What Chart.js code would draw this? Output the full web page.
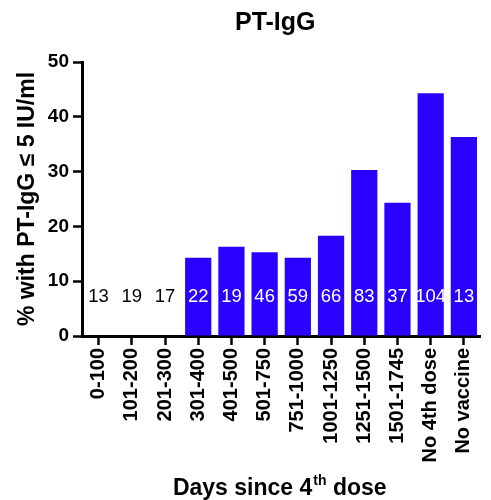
<!DOCTYPE html>
<html>
<head>
<meta charset="utf-8">
<script src="https://cdn.jsdelivr.net/npm/chart.js@4"></script>
<style>
  body { margin: 0; background: #fff; }
  #wrap { width: 491px; height: 500px; }
</style>
</head>
<body>
<div id="wrap"><canvas id="igg"></canvas></div>
<script>
const categories = ['0-100', '101-200', '201-300', '301-400', '401-500', '501-750',
  '751-1000', '1001-1250', '1251-1500', '1501-1745', 'No 4th dose', 'No vaccine'];
const pctLow = [0, 0, 0, 14.3, 16.3, 15.3, 14.3, 18.3, 30.3, 24.3, 44.3, 36.3];
const nPerGroup = [13, 19, 17, 22, 19, 46, 59, 66, 83, 37, 104, 13];
const yTicks = [0, 10, 20, 30, 40, 50];

const FONT = '"Liberation Sans", Arial, sans-serif';
const BLUE = '#2A00FF';

// n labels inside the bars + titles (x title needs a superscript)
const extras = {
  id: 'extras',
  afterDatasetsDraw(chart) {
    const ctx = chart.ctx;
    const y = chart.scales.y;
    const bars = chart.getDatasetMeta(0).data;
    ctx.save();
    ctx.font = '18.5px ' + FONT;
    ctx.textAlign = 'center';
    ctx.textBaseline = 'middle';
    bars.forEach((bar, i) => {
      ctx.fillStyle = pctLow[i] > 0 ? '#fff' : '#000';
      ctx.fillText(String(nPerGroup[i]), bar.x, y.getPixelForValue(7.1));
    });
    ctx.restore();
  },
  afterDraw(chart) {
    const ctx = chart.ctx;
    const area = chart.chartArea;
    const mid = (area.left + area.right) / 2;
    ctx.save();
    ctx.fillStyle = '#000';
    ctx.textBaseline = 'alphabetic';
    ctx.textAlign = 'center';
    ctx.font = 'bold 25px ' + FONT;
    ctx.fillText('PT-IgG', mid - 6, 30);

    // Days since 4th dose
    const big = 'bold 23px ' + FONT, small = 'bold 14px ' + FONT;
    const a = 'Days since 4', sup = 'th', b = ' dose';
    ctx.font = big; const wa = ctx.measureText(a).width, wb = ctx.measureText(b).width;
    ctx.font = small; const ws = ctx.measureText(sup).width;
    let x = mid - 2 - (wa + ws + wb) / 2;
    const base = 495;
    ctx.textAlign = 'left';
    ctx.font = big; ctx.fillText(a, x, base); x += wa;
    ctx.font = small; ctx.fillText(sup, x + 1, base - 10); x += ws + 1;
    ctx.font = big; ctx.fillText(b, x, base);
    ctx.restore();
  }
};

new Chart(document.getElementById('igg'), {
  type: 'bar',
  data: {
    labels: categories,
    datasets: [{
      label: '% with PT-IgG ≤ 5 IU/ml',
      data: pctLow,
      backgroundColor: BLUE,
      borderWidth: 0,
      categoryPercentage: 1,
      barPercentage: 0.79
    }]
  },
  options: {
    responsive: true,
    maintainAspectRatio: false,
    animation: false,
    layout: { padding: { top: 62, right: 3, left: 0, bottom: 0 } },
    plugins: {
      legend: { display: false },
      tooltip: { enabled: false }
    },
    scales: {
      x: {
        afterFit(scale) { scale.height = 164; },
        grid: {
          offset: false,
          drawOnChartArea: false,
          color: '#000',
          tickLength: 9,
          tickWidth: 2.5
        },
        border: { color: '#000', width: 3 },
        ticks: {
          color: '#000',
          padding: 3,
          autoSkip: false,
          minRotation: 90,
          maxRotation: 90,
          font: { family: FONT, size: 20, weight: 'bold' }
        }
      },
      y: {
        min: 0,
        max: 50,
        afterFit(scale) { scale.width = 82; },
        afterBuildTicks(scale) { scale.ticks = yTicks.map(v => ({ value: v })); },
        grid: {
          drawOnChartArea: false,
          color: '#000',
          tickLength: 9,
          tickWidth: 2.5
        },
        border: { color: '#000', width: 3 },
        ticks: {
          color: '#000',
          padding: 4,
          font: { family: FONT, size: 19, weight: 'bold' }
        },
        title: {
          display: true,
          text: '% with PT-IgG ≤ 5 IU/ml',
          color: '#000',
          padding: { top: 14, bottom: 0 },
          font: { family: FONT, size: 23, weight: 'bold' }
        }
      }
    }
  },
  plugins: [extras]
});
</script>
</body>
</html>
